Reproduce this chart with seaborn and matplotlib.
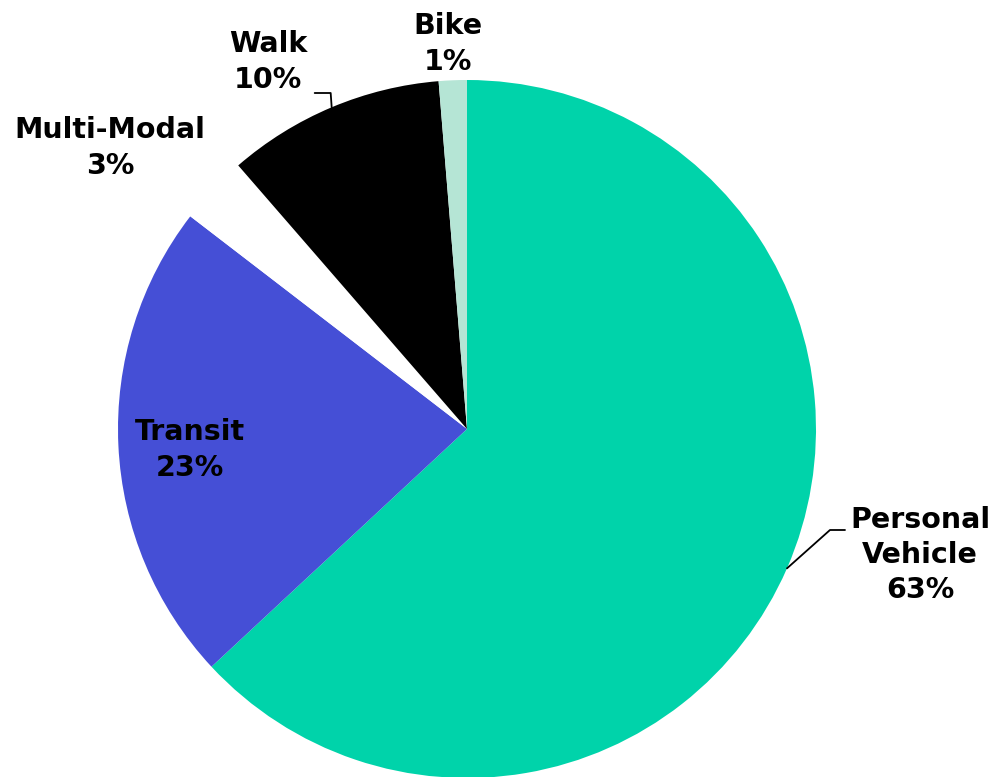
import numpy as np
import seaborn as sns
import matplotlib.pyplot as plt

sns.set_style("white")

modes = ["Personal Vehicle", "Transit", "Multi-Modal", "Walk", "Bike"]
shares = [63.2, 22.4, 3.2, 10.1, 1.3]
share_labels = ["63%", "23%", "3%", "10%", "1%"]
label_names = ["Personal\nVehicle", "Transit", "Multi-Modal", "Walk", "Bike"]
colors = sns.color_palette(["#00D3AA", "#454FD6", "#FFFFFF", "#000000", "#B5E5D5"])

W, H = 993, 777
fig = plt.figure(figsize=(W / 100, H / 100), dpi=100)
ax = fig.add_axes([0, 0, 1, 1])

cx, cy, r = 467, H - 429, 349
wedges, _ = ax.pie(shares, colors=colors, startangle=90, counterclock=False,
                   center=(cx, cy), radius=r, frame=True,
                   wedgeprops=dict(linewidth=0))
ax.set_xlim(0, W)
ax.set_ylim(0, H)
ax.set_aspect("equal")
ax.axis("off")

# label positions in pixel space (from top-left)
label_pos = {
    "Personal Vehicle": (920, 555),
    "Transit": (190, 450),
    "Multi-Modal": (110, 148),
    "Walk": (268, 62),
    "Bike": (448, 44),
}
for m, name, pct in zip(modes, label_names, share_labels):
    x, y = label_pos[m]
    ax.text(x, H - y, f"{name}\n{pct}", ha="center", va="center",
            fontsize=20.5, fontweight="bold", linespacing=1.32,
            color="black", family=["DejaVu Sans"])


def edge_point(w):
    mid = np.deg2rad((w.theta1 + w.theta2) / 2)
    return cx + r * np.cos(mid), cy + r * np.sin(mid)

# leader lines
ex, ey = edge_point(wedges[3])
ax.plot([ex, ex - 1, ex - 17], [ey, H - 93, H - 93], color="black", lw=1.3)
ex, ey = edge_point(wedges[0])
ax.plot([ex, 830, 845], [ey, H - 530, H - 530], color="black", lw=1.3)

fig.savefig("out.png", dpi=100)
